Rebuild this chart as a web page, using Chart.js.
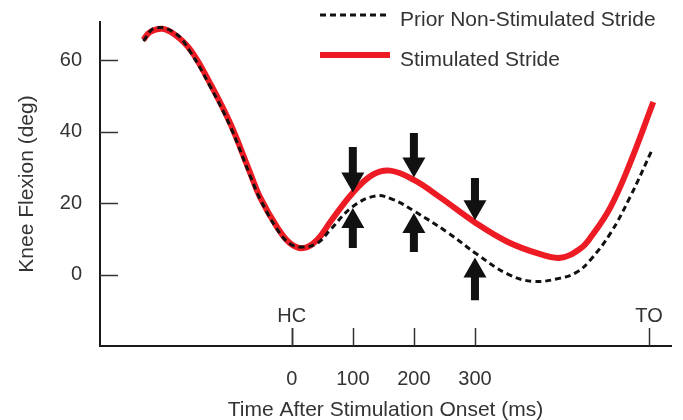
<!DOCTYPE html>
<html lang="en">

<head>
    <meta charset="UTF-8">
    <title>Knee Flexion After Stimulation</title>
    <script src="https://cdn.jsdelivr.net/npm/chart.js"></script>
    <style>
        body { margin: 0; background: #fff; }
    </style>
</head>

<body>
    <canvas id="kneeChart" width="683" height="420"></canvas>

    <script>
        // Prior non-stimulated stride (dashed)
        const priorTime = [-243, -224, -191, -166, -134, -101, -68, -52, -24, -3, 19, 42, 63, 99, 137, 166, 200, 255, 304, 353, 395, 440, 467, 489, 522, 554, 590];
        const priorAngle = [65.4, 69.0, 67.6, 62.3, 52.8, 41.6, 27.6, 21.2, 12.7, 8.6, 7.7, 8.8, 12.5, 18.9, 22.0, 21.0, 17.8, 11.8, 5.6, 0.2, -1.9, -1.0, 0.7, 4.1, 11.6, 21.7, 34.9];

        // Stimulated stride (red)
        const stimTime = [-243, -232, -212, -191, -166, -134, -101, -68, -52, -24, -3, 19, 42, 63, 99, 132, 161, 200, 243, 300, 353, 407, 440, 472, 489, 522, 554, 592];
        const stimAngle = [65.7, 67.9, 68.8, 67.1, 62.9, 53.6, 42.4, 28.4, 21.7, 13.3, 8.8, 7.4, 9.8, 14.7, 22.7, 27.9, 29.1, 26.5, 21.6, 14.6, 9.2, 5.7, 4.7, 7.2, 10.3, 18.9, 31.2, 48.3];

        // axis ticks
        const xTicks = [0, 100, 200, 300];
        const yTicks = [0, 20, 40, 60];

        // gait events (heel contact, toe off)
        const eventNames = ['HC', 'TO'];
        const eventTimes = [0, 585];

        // arrows at the stimulation times
        const arrowTimes = [100, 200, 300];
        const downFrom = [35.7, 39.6, 27.0];
        const downTo = [23.0, 27.2, 15.2];
        const upFrom = [7.4, 6.3, -7.2];
        const upTo = [18.6, 17.2, 4.8];

        const seriesNames = ['Prior Non-Stimulated Stride', 'Stimulated Stride'];

        const textColor = '#333';
        const red = '#ed1c24';
        const fontFamily = '"Liberation Sans", Arial, sans-serif';

        function toPoints(xs, ys) {
            return xs.map((t, i) => ({ x: t, y: ys[i] }));
        }

        function drawArrow(ctx, px, y0, y1) {
            const dir = y1 > y0 ? 1 : -1;
            const head = 20, hw = 11.5, sw = 4;
            const base = y1 - dir * head;
            ctx.beginPath();
            ctx.moveTo(px - sw, y0);
            ctx.lineTo(px + sw, y0);
            ctx.lineTo(px + sw, base);
            ctx.lineTo(px + hw, base);
            ctx.lineTo(px, y1);
            ctx.lineTo(px - hw, base);
            ctx.lineTo(px - sw, base);
            ctx.closePath();
            ctx.fill();
        }

        const overlay = {
            id: 'overlay',
            afterDatasetsDraw(chart) {
                const { ctx, scales: { x, y } } = chart;
                ctx.save();

                // inward tick marks
                ctx.strokeStyle = '#333';
                ctx.lineWidth = 1.5;
                yTicks.forEach(v => {
                    const py = Math.round(y.getPixelForValue(v)) + 0.5;
                    ctx.beginPath();
                    ctx.moveTo(x.left, py);
                    ctx.lineTo(x.left + 18, py);
                    ctx.stroke();
                });
                xTicks.concat(eventTimes).forEach(v => {
                    const px = Math.round(x.getPixelForValue(v)) + 0.5;
                    ctx.beginPath();
                    ctx.moveTo(px, y.bottom);
                    ctx.lineTo(px, y.bottom - 18);
                    ctx.stroke();
                });

                // HC / TO labels
                ctx.fillStyle = textColor;
                ctx.font = '20px ' + fontFamily;
                ctx.textAlign = 'center';
                ctx.textBaseline = 'middle';
                eventNames.forEach((name, i) => {
                    ctx.fillText(name, x.getPixelForValue(eventTimes[i]), y.bottom - 30);
                });

                // arrows
                ctx.fillStyle = '#111';
                arrowTimes.forEach((t, i) => {
                    const px = x.getPixelForValue(t);
                    drawArrow(ctx, px, y.getPixelForValue(downFrom[i]), y.getPixelForValue(downTo[i]));
                    drawArrow(ctx, px, y.getPixelForValue(upFrom[i]), y.getPixelForValue(upTo[i]));
                });

                // legend
                ctx.lineWidth = 3;
                ctx.strokeStyle = '#111';
                ctx.setLineDash([6, 4]);
                ctx.beginPath();
                ctx.moveTo(320, 15);
                ctx.lineTo(390, 15);
                ctx.stroke();
                ctx.setLineDash([]);
                ctx.lineWidth = 6;
                ctx.strokeStyle = red;
                ctx.beginPath();
                ctx.moveTo(320, 55);
                ctx.lineTo(390, 55);
                ctx.stroke();

                ctx.fillStyle = textColor;
                ctx.font = '21px ' + fontFamily;
                ctx.textAlign = 'left';
                ctx.fillText(seriesNames[0], 400, 20);
                ctx.fillText(seriesNames[1], 400, 60);

                ctx.restore();
            }
        };

        const ctx = document.getElementById('kneeChart').getContext('2d');
        new Chart(ctx, {
            type: 'line',
            data: {
                datasets: [{
                    label: seriesNames[0],
                    data: toPoints(priorTime, priorAngle),
                    borderColor: '#111',
                    borderWidth: 3,
                    borderDash: [6, 4],
                    pointRadius: 0,
                    fill: false,
                    tension: 0.4
                }, {
                    label: seriesNames[1],
                    data: toPoints(stimTime, stimAngle),
                    borderColor: red,
                    borderWidth: 6,
                    pointRadius: 0,
                    fill: false,
                    tension: 0.4
                }]
            },
            options: {
                responsive: false,
                animation: false,
                layout: { padding: { top: 22, right: 12, left: 0, bottom: 0 } },
                plugins: {
                    legend: { display: false },
                    tooltip: { enabled: false }
                },
                scales: {
                    x: {
                        type: 'linear',
                        min: -314,
                        max: 621,
                        afterBuildTicks: scale => { scale.ticks = xTicks.map(v => ({ value: v })); },
                        afterFit: scale => {
                            scale.height = 74;
                            scale.paddingLeft = 0;
                            scale.paddingRight = 0;
                        },
                        grid: { display: false, drawTicks: false },
                        border: { display: true, color: '#1a1a1a', width: 2 },
                        ticks: {
                            padding: 21,
                            color: textColor,
                            font: { family: fontFamily, size: 20 },
                            maxRotation: 0
                        },
                        title: {
                            display: true,
                            text: 'Time After Stimulation Onset (ms)',
                            color: textColor,
                            font: { family: fontFamily, size: 21 },
                            padding: { top: 0, bottom: -3 }
                        }
                    },
                    y: {
                        min: -20,
                        max: 70.7,
                        afterBuildTicks: scale => { scale.ticks = yTicks.map(v => ({ value: v })); },
                        afterFit: scale => {
                            scale.width = 100;
                            scale.paddingTop = 0;
                            scale.paddingBottom = 0;
                        },
                        grid: { display: false, drawTicks: false },
                        border: { display: true, color: '#1a1a1a', width: 2 },
                        ticks: {
                            padding: 18,
                            color: textColor,
                            font: { family: fontFamily, size: 20 }
                        },
                        title: {
                            display: true,
                            text: 'Knee Flexion (deg)',
                            color: textColor,
                            font: { family: fontFamily, size: 21 },
                            padding: { top: 15, bottom: 0 }
                        }
                    }
                }
            },
            plugins: [overlay]
        });
    </script>
</body>

</html>
